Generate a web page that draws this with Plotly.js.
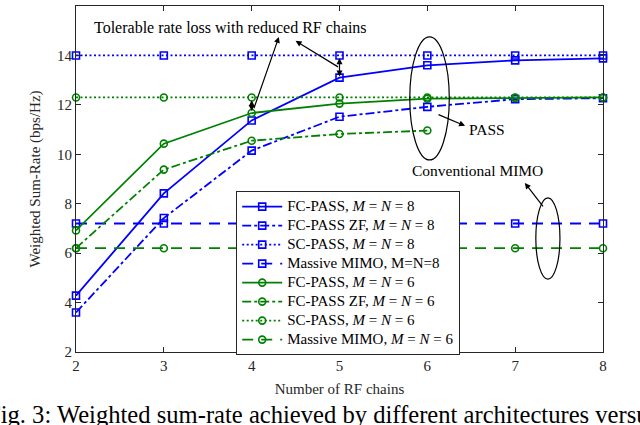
<!DOCTYPE html>
<html>
<head>
<meta charset="utf-8">
<script src="https://cdn.plot.ly/plotly-3.0.1.min.js"></script>
<style>html,body{margin:0;padding:0;background:#fff;}#chart{width:640px;height:425px;}</style>
</head>
<body>
<div id="chart"></div>
<script>
// ---- data ----
const rfChains = [2, 3, 4, 5, 6, 7, 8];
const rfChainsZF6 = [2, 3, 4, 5, 6];
const fcPass8 = [4.28, 8.42, 11.37, 13.1, 13.6, 13.8, 13.88];
const fcPassZF8 = [3.6, 7.42, 10.15, 11.52, 11.92, 12.23, 12.27];
const scPass8 = [14, 14, 14, 14, 14, 14, 14];
const massive8 = [7.2, 7.2, 7.2, 7.2, 7.2, 7.2, 7.2];
const fcPass6 = [6.92, 10.43, 11.67, 12.05, 12.25, 12.28, 12.3];
const fcPassZF6 = [6.2, 9.38, 10.55, 10.82, 10.96];
const scPass6 = [12.3, 12.3, 12.3, 12.3, 12.3, 12.3, 12.3];
const massive6 = [6.2, 6.2, 6.2, 6.2, 6.2, 6.2, 6.2];
const seriesNames = [
  'FC-PASS, <i>M</i> = <i>N</i> = 8',
  'FC-PASS ZF, <i>M</i> = <i>N</i> = 8',
  'SC-PASS, <i>M</i> = <i>N</i> = 8',
  'Massive MIMO, M=N=8',
  'FC-PASS, <i>M</i> = <i>N</i> = 6',
  'FC-PASS ZF, <i>M</i> = <i>N</i> = 6',
  'SC-PASS, <i>M</i> = <i>N</i> = 6',
  'Massive MIMO, <i>M</i> = <i>N</i> = 6'
];
const xTicks = [2, 3, 4, 5, 6, 7, 8];
const yTicks = [2, 4, 6, 8, 10, 12, 14, 16];

const BLUE = '#0000ff', GREEN = '#008000';
const FONT = '"Liberation Serif", "Times New Roman", "DejaVu Serif", serif';
const dotted = '2px,2.5px', dashed = '11px,8px';

function tr(x, y, name, color, dash, symbol) {
  return {
    x: x, y: y, name: '<span style="font-size:15px">' + name + '</span>',
    type: 'scatter', mode: 'lines+markers',
    line: {color: color, width: 1.8, dash: dash},
    marker: {symbol: symbol, size: 7, color: color, line: {color: color, width: 1.6}},
    cliponaxis: false
  };
}

const data = [
  tr(rfChains, fcPass8, seriesNames[0], BLUE, 'solid', 'square-open'),
  tr(rfChains, fcPassZF8, seriesNames[1], BLUE, 'dashdot', 'square-open'),
  tr(rfChains, scPass8, seriesNames[2], BLUE, dotted, 'square-open'),
  tr(rfChains, massive8, seriesNames[3], BLUE, dashed, 'square-open'),
  tr(rfChains, fcPass6, seriesNames[4], GREEN, 'solid', 'circle-open'),
  tr(rfChainsZF6, fcPassZF6, seriesNames[5], GREEN, 'dashdot', 'circle-open'),
  tr(rfChains, scPass6, seriesNames[6], GREEN, dotted, 'circle-open'),
  tr(rfChains, massive6, seriesNames[7], GREEN, dashed, 'circle-open')
];

function arrow(x, y, ax, ay, both) {
  return {x: x, y: y, ax: ax, ay: ay, xref: 'x', yref: 'y', axref: 'x', ayref: 'y',
    text: '', showarrow: true, arrowhead: 2, arrowsize: 1, arrowwidth: 1.2,
    arrowcolor: '#000', arrowside: both ? 'end+start' : 'end', standoff: 0, startstandoff: 0};
}

const annotations = [
  {x: 3.76, y: 15.15, xref: 'x', yref: 'y', text: 'Tolerable rate loss with reduced RF chains',
   showarrow: false, font: {family: FONT, size: 16, color: '#000'}},
  arrow(4.31, 14.75, 4.02, 11.8, false),
  arrow(4.5, 14.59, 5.0, 13.5, false),
  arrow(4, 11.75, 4, 12.25, true),
  arrow(5, 13.15, 5, 13.95, true),
  {x: 6.68, y: 11.02, xref: 'x', yref: 'y', text: 'PASS', showarrow: false, xanchor: 'center',
   font: {family: FONT, size: 15.5, color: '#000'}},
  arrow(6.43, 11.15, 6.11, 11.63, false),
  {x: 6.57, y: 9.33, xref: 'x', yref: 'y', text: 'Conventional MIMO', showarrow: false,
   font: {family: FONT, size: 15.5, color: '#000'}},
  arrow(7.11, 8.84, 7.33, 7.83, false),
  {x: -0.172, y: -0.18, xref: 'paper', yref: 'paper', xanchor: 'left', yanchor: 'middle',
   text: 'Fig. 3: Weighted sum-rate achieved by different architectures versus the number',
   showarrow: false, font: {family: FONT, size: 24.6, color: '#000'}}
];

const shapes = [
  {type: 'circle', xref: 'x', yref: 'y', x0: 5.8, x1: 6.25, y0: 9.77, y1: 14.75,
   line: {color: '#000', width: 1.2}},
  {type: 'circle', xref: 'x', yref: 'y', x0: 7.235, x1: 7.51, y0: 4.95, y1: 8.24,
   line: {color: '#000', width: 1.2}}
];

const axisCommon = {
  showgrid: false, zeroline: false, showline: true, linecolor: '#262626', linewidth: 1,
  mirror: 'ticks', ticks: 'inside', ticklen: 5, tickcolor: '#262626',
  tickfont: {family: FONT, size: 15, color: '#262626'}
};

const layout = {
  width: 640, height: 425,
  margin: {l: 76, r: 37, t: 6, b: 73},
  paper_bgcolor: '#fff', plot_bgcolor: '#fff',
  showlegend: true,
  legend: {x: 0.304, y: 0.465, xanchor: 'left', yanchor: 'top',
    bgcolor: '#fff', bordercolor: '#262626', borderwidth: 1,
    font: {family: FONT, size: 11, color: '#000'}, tracegroupgap: 0, itemwidth: 40},
  xaxis: Object.assign({}, axisCommon, {range: [2, 8], tickvals: xTicks,
    title: {text: 'Number of RF chains', font: {family: FONT, size: 15, color: '#262626'}, standoff: 10}}),
  yaxis: Object.assign({}, axisCommon, {range: [2, 16], tickvals: yTicks,
    title: {text: 'Weighted Sum-Rate (bps/Hz)', font: {family: FONT, size: 15, color: '#262626'}, standoff: 12}}),
  annotations: annotations,
  shapes: shapes
};

Plotly.newPlot('chart', data, layout, {displayModeBar: false, staticPlot: true});
</script>
</body>
</html>
